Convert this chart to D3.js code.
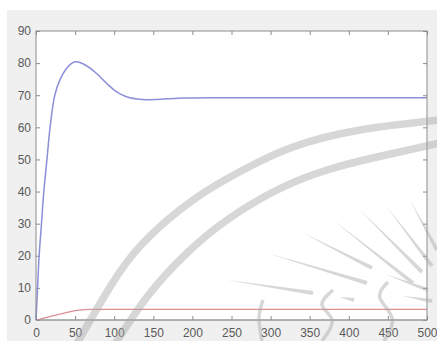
<!DOCTYPE html>
<html>
<head>
<meta charset="utf-8">
<script src="https://cdn.jsdelivr.net/npm/d3@7/dist/d3.min.js"></script>
<style>
  html, body { margin: 0; padding: 0; background: #ffffff; }
  svg { display: block; }
  .tick text { font-family: "Liberation Sans", Arial, sans-serif; font-size: 12px; fill: #5a5a5a; }
</style>
</head>
<body>
<svg id="chart" width="437" height="341"></svg>
<script>
// Step response samples (time, output)
const timeOutput = [0, 1, 2, 4, 7, 10, 14, 18, 24, 31, 38, 46, 52, 60, 70, 80, 90, 100, 110, 120, 130, 141, 155, 170, 190, 220, 300, 400, 500];
const output     = [0, 5, 10, 20, 30, 40, 50, 60, 70, 75, 78, 80, 80.4, 79.8, 78.3, 76.2, 73.8, 71.6, 70.1, 69.2, 68.8, 68.6, 68.7, 68.9, 69.1, 69.2, 69.2, 69.2, 69.2];

// Control signal samples
const timeControl = [0, 5, 10, 20, 30, 40, 50, 56, 62, 70, 100, 200, 300, 400, 500];
const control     = [0, 0.2, 0.6, 1.2, 1.8, 2.4, 2.9, 3.1, 3.25, 3.3, 3.3, 3.3, 3.3, 3.3, 3.3];

// Error channel (zero throughout)
const timeError = [0, 500];
const errorSig  = [0, 0];

const xTicks = [0, 50, 100, 150, 200, 250, 300, 350, 400, 450, 500];
const yTicks = [0, 10, 20, 30, 40, 50, 60, 70, 80, 90];

const svg = d3.select("#chart");
const W = 437, H = 341;
const plot = { left: 36, top: 31, right: 427, bottom: 320 };

// figure background
svg.append("rect").attr("x", 7).attr("y", 10).attr("width", W - 7).attr("height", H - 10).attr("fill", "#f0f0f0");

const x = d3.scaleLinear().domain([0, 500]).range([plot.left, plot.right]);
const y = d3.scaleLinear().domain([0, 90]).range([plot.bottom, plot.top]);

// axes area
svg.append("rect")
  .attr("x", plot.left).attr("y", plot.top)
  .attr("width", plot.right - plot.left).attr("height", plot.bottom - plot.top)
  .attr("fill", "#ffffff");

const axisColor = "#8c8c8c";
function styleAxis(g) {
  g.select(".domain").remove();
  g.selectAll(".tick line").attr("stroke", axisColor);
}

svg.append("g").attr("transform", `translate(0,${plot.bottom})`)
  .call(d3.axisBottom(x).tickValues(xTicks).tickSizeInner(-4).tickSizeOuter(0).tickPadding(8))
  .call(styleAxis);
svg.append("g").attr("transform", `translate(0,${plot.top})`)
  .call(d3.axisTop(x).tickValues(xTicks).tickSizeInner(-4).tickSizeOuter(0).tickFormat(""))
  .call(styleAxis);
svg.append("g").attr("transform", `translate(${plot.left},0)`)
  .call(d3.axisLeft(y).tickValues(yTicks).tickSizeInner(-4).tickSizeOuter(0).tickPadding(5))
  .call(styleAxis);
svg.append("g").attr("transform", `translate(${plot.right},0)`)
  .call(d3.axisRight(y).tickValues(yTicks).tickSizeInner(-4).tickSizeOuter(0).tickFormat(""))
  .call(styleAxis);

// series
const line = d3.line().x(d => x(d[0])).y(d => y(d[1])).curve(d3.curveCatmullRom.alpha(0.5));
const series = [
  { t: timeError, v: errorSig, color: "#9fb9b4", width: 1 },
  { t: timeControl, v: control, color: "#dc8f93", width: 1.3 },
  { t: timeOutput, v: output, color: "#8b8fd8", width: 1.5 }
];
series.forEach(s => {
  svg.append("path")
    .datum(d3.zip(s.t, s.v))
    .attr("fill", "none")
    .attr("stroke", s.color)
    .attr("stroke-width", s.width)
    .attr("d", line);
});

// axes box
svg.append("rect")
  .attr("x", plot.left).attr("y", plot.top)
  .attr("width", plot.right - plot.left).attr("height", plot.bottom - plot.top)
  .attr("fill", "none").attr("stroke", axisColor).attr("stroke-width", 1);

// faint emblem overlay
const mark = svg.append("g").attr("opacity", 0.45).attr("fill", "none").attr("stroke", "#a8a8a8");
const arcLine = d3.line().curve(d3.curveNatural);
const outerArc = [[72, 352], [110, 287], [143, 243], [193, 200], [243, 170], [293, 147], [360, 130], [440, 120]];
const innerArc = [[110, 352], [147, 297], [187, 253], [227, 220], [277, 190], [327, 170], [377, 157], [440, 143]];
mark.append("path").attr("d", arcLine(outerArc)).attr("stroke-width", 7.5);
mark.append("path").attr("d", arcLine(innerArc)).attr("stroke-width", 7.5);

const rays = [
  [[227, 280], [313, 293]],
  [[267, 253], [367, 283]],
  [[303, 233], [372, 268]],
  [[333, 220], [413, 283]],
  [[360, 210], [422, 272]],
  [[387, 207], [432, 266]],
  [[410, 200], [437, 250]],
  [[385, 274], [428, 290]],
  [[403, 296], [432, 301]],
  [[340, 297], [354, 300]]
];
rays.forEach(([a, b]) => {
  const dx = b[0] - a[0], dy = b[1] - a[1];
  const len = Math.hypot(dx, dy);
  const nx = -dy / len, ny = dx / len;
  const w = 2;
  const pts = [a, [b[0] + nx * w, b[1] + ny * w], [b[0] - nx * w, b[1] - ny * w]];
  mark.append("path").attr("d", "M" + pts.join("L") + "Z").attr("fill", "#a8a8a8").attr("stroke", "none");
});

const flames = [
  [[333, 290], [322, 305], [332, 320], [322, 341]],
  [[388, 282], [380, 298], [392, 318], [384, 341]],
  [[263, 300], [259, 318], [262, 341]]
];
flames.forEach(f => mark.append("path").attr("d", arcLine(f)).attr("stroke-width", 3.5));
</script>
</body>
</html>
